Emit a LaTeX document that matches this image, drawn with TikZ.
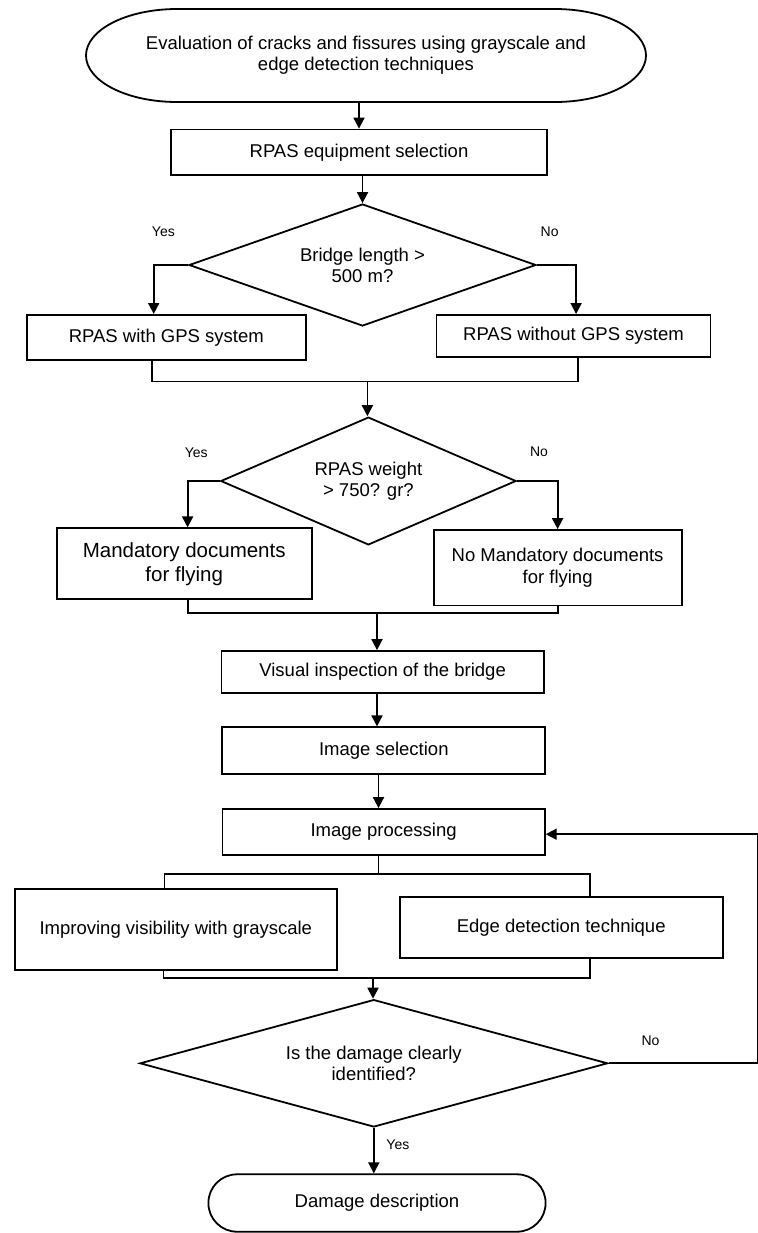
\documentclass[tikz,border=0pt]{standalone}
\usepackage{fontspec}
\setmainfont{Liberation Sans}
\usetikzlibrary{arrows.meta}
\usetikzlibrary{shapes.geometric}
\tikzset{
    box/.style={shape=rectangle,draw=black,line width=0.9pt,inner sep=0pt,align=center,font=\fontsize{9.25}{10.5}\selectfont},
    ask/.style={shape=diamond,draw=black,line width=0.9pt,inner sep=0pt,align=center,font=\fontsize{9.25}{10.5}\selectfont},
    lbl/.style={inner sep=0pt,font=\fontsize{7}{8}\selectfont},
    arr/.style={line width=0.9pt,-{Triangle[length=5.5pt,width=5.5pt]}},
    link/.style={line width=0.9pt},
}

\begin{document}
\begin{tikzpicture}[x=0.5pt,y=-0.5pt]
    \useasboundingbox (0,0) rectangle (758,1233);

    \node[box,draw=none,outer sep=0pt,minimum width=280pt,minimum height=46.5pt] (Start) at (366,55.5) {Evaluation of cracks and fissures using grayscale and\\edge detection techniques};
    \node[box,minimum width=188.3pt,minimum height=22.8pt] (R_Sel) at (359,152.3) {RPAS equipment selection};
    \node[ask,aspect=2.84,minimum width=173.5pt,minimum height=61pt] (D_Len) at (362.5,265) {Bridge length >\\500 m?};
    \node[box,minimum width=139.7pt,minimum height=22.6pt] (R_GPS) at (166.3,337.5) {RPAS with GPS system};
    \node[box,minimum width=137pt,minimum height=20.9pt] (R_NoGPS) at (573.5,335.8) {RPAS without GPS system};
    \node[ask,aspect=2.31,minimum width=147.7pt,minimum height=63.9pt] (D_W) at (368.4,481) {RPAS weight\\> 750? gr?};
    \node[box,minimum width=127.6pt,minimum height=35.5pt,font=\fontsize{10.25}{12}\selectfont] (M_Doc) at (184.2,563.8) {Mandatory documents\\for flying};
    \node[box,minimum width=124pt,minimum height=37.7pt,font=\fontsize{9.25}{11}\selectfont] (N_Doc) at (557.6,567.7) {No Mandatory documents\\for flying};
    \node[box,minimum width=161.2pt,minimum height=20.8pt] (V_Insp) at (382.6,671.8) {Visual inspection of the bridge};
    \node[box,minimum width=161.5pt,minimum height=23.5pt] (I_Sel) at (383.8,750.8) {Image selection};
    \node[box,minimum width=161.2pt,minimum height=23pt] (I_Proc) at (383.6,832) {Image processing};
    \node[box,minimum width=161.2pt,minimum height=40.5pt] (I_Gray) at (175.8,929.5) {Improving visibility with grayscale};
    \node[box,minimum width=161.5pt,minimum height=30.5pt] (I_Edge) at (561.2,927.8) {Edge detection technique};
    \node[ask,aspect=3.67,minimum width=233.9pt,minimum height=63.7pt] (D_Dmg) at (373.8,1063.3) {Is the damage clearly\\identified?};
    \node[box,rounded corners=14.3pt,minimum width=168.6pt,minimum height=28.7pt] (Dmg_D) at (377,1203) {Damage description};

    % answer labels
    \node[lbl] (Y_1) at (163.4,231.7) {Yes};
    \node[lbl] (N_1) at (549.6,231.7) {No};
    \node[lbl] (Y_2) at (196.3,452.7) {Yes};
    \node[lbl] (N_2) at (539,451.7) {No};
    \node[lbl] (N_3) at (650.5,1041) {No};
    \node[lbl] (Y_3) at (397.9,1144.3) {Yes};

    % start terminal
    \draw [link] ([xshift=45.5pt]Start.north west) -- ([xshift=-45.5pt]Start.north east)
        arc[start angle=90,end angle=-90,x radius=45.5pt,y radius=23.25pt]
        -- ([xshift=45.5pt]Start.south west)
        arc[start angle=270,end angle=90,x radius=45.5pt,y radius=23.25pt] -- cycle;

    \coordinate (J_1) at (367.4,381.5);
    \coordinate (J_2) at (377,613);
    \coordinate (J_3) at (378.5,874.3);
    \coordinate (J_4) at (373,978.3);
    \coordinate (R_B) at (757.5,1063.3);

    \path [arr] (Start.south -| R_Sel.north) edge (R_Sel.north);
    \path [arr] (D_Len.north |- R_Sel.south) edge (D_Len.north);

    \draw [arr] (D_Len.west) -| ([xshift=-6.3pt]R_GPS.north);
    \draw [arr] (D_Len.east) -| ([xshift=1.3pt]R_NoGPS.north);
    \draw [link] ([xshift=-7pt]R_GPS.south) |- (J_1) -| ([xshift=2.2pt]R_NoGPS.south);
    \path [arr] (J_1) edge (J_1 |- D_W.north);

    \draw [arr] (D_W.west) -| ([xshift=1.7pt]M_Doc.north);
    \draw [arr] (D_W.east) -| (N_Doc.north);
    \draw [link] ([xshift=1.7pt]M_Doc.south) |- (J_2) -| (N_Doc.south);
    \path [arr] (J_2) edge (J_2 |- V_Insp.north);
    \path [arr] (J_2 |- V_Insp.south) edge (J_2 |- I_Sel.north);
    \path [arr] (I_Sel.south -| J_3) edge (I_Proc.north -| J_3);

    \draw [link] (J_3 |- I_Proc.south) -- (J_3);
    \draw [link] ([xshift=-5.7pt]I_Gray.north) |- (J_3) -| ([xshift=14.25pt]I_Edge.north);
    \draw [link] ([xshift=-6.2pt]I_Gray.south) |- (J_4) -| ([xshift=14.25pt]I_Edge.south);
    \path [arr] (J_4) edge (J_4 |- D_Dmg.north);

    \draw [arr] (D_Dmg.east) -- (R_B) |- ([yshift=-1.1pt]I_Proc.east);
    \path [arr] (D_Dmg.south) edge (D_Dmg.south |- Dmg_D.north);
\end{tikzpicture}
\end{document}
